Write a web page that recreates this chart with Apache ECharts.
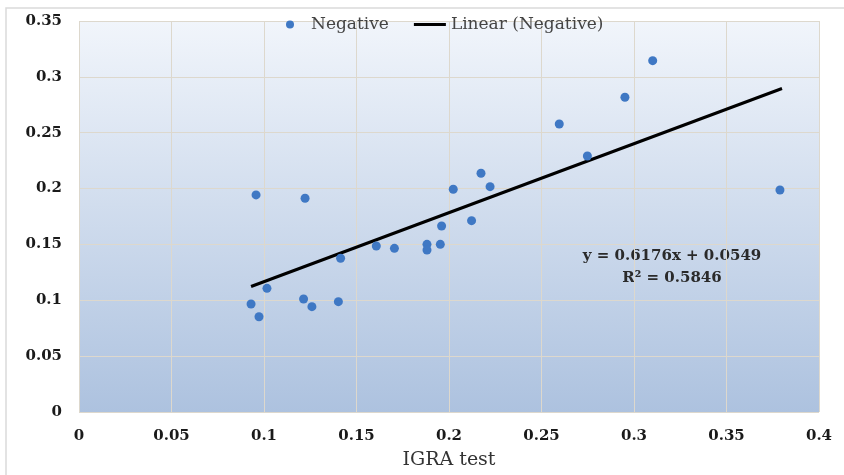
<!DOCTYPE html>
<html>
<head>
<meta charset="utf-8">
<script src="https://cdn.jsdelivr.net/npm/echarts@6/dist/echarts.min.js"></script>
<style>
  html, body { margin: 0; padding: 0; background: #fff; }
  #main { width: 844px; height: 475px; }
</style>
</head>
<body>
<div id="main"></div>
<script>
// IGRA test (x) vs. value (y), negative group
var negX = [0.0957, 0.1016, 0.0930, 0.0973, 0.1214, 0.1259, 0.1402,
            0.1222, 0.1414, 0.1607, 0.1705, 0.1881, 0.1881, 0.1953,
            0.1960, 0.2023, 0.2122, 0.2173, 0.2222,
            0.2596, 0.2748, 0.2951, 0.3101, 0.3789];
var negY = [0.1943, 0.1107, 0.0967, 0.0853, 0.1012, 0.0943, 0.0988,
            0.1913, 0.1376, 0.1486, 0.1465, 0.1501, 0.1450, 0.1501,
            0.1665, 0.1994, 0.1713, 0.2137, 0.2017,
            0.2578, 0.2292, 0.2817, 0.3145, 0.1987];

// linear trendline as reported in the chart
var slope = 0.6176;
var intercept = 0.0549;
var rSquared = 0.5846;
var trendRange = [0.093, 0.38];

var xTicks = { min: 0, max: 0.4, interval: 0.05 };
var yTicks = { min: 0, max: 0.35, interval: 0.05 };

var serif = 'DejaVu Serif';

var scatterData = negX.map(function(x, i) { return [x, negY[i]]; });
var trendData = trendRange.map(function(x) { return [x, slope * x + intercept]; });

var tickFmt = function(v) { return String(+v.toFixed(2)); };

var chart = echarts.init(document.getElementById('main'));
chart.setOption({
    animation: false,
    backgroundColor: '#fff',
    grid: {
        left: 79, right: 25, top: 21, bottom: 63,
        show: true,
        borderWidth: 0,
        backgroundColor: new echarts.graphic.LinearGradient(0, 0, 0, 1, [
            { offset: 0, color: '#f1f5fb' },
            { offset: 1, color: '#adc2df' }
        ])
    },
    legend: {
        left: 281, top: 11,
        itemWidth: 32, itemHeight: 8,
        itemGap: 25,
        textStyle: { fontFamily: serif, fontSize: 17, color: '#444' },
        data: [
            { name: 'Negative', icon: 'circle' },
            { name: 'Linear (Negative)', icon: 'path://M0,0L32,0L32,3L0,3Z',
              itemStyle: { color: '#000' } }
        ]
    },
    xAxis: {
        type: 'value',
        min: xTicks.min, max: xTicks.max, interval: xTicks.interval,
        name: 'IGRA test',
        nameLocation: 'middle',
        nameGap: 39,
        nameTextStyle: { fontFamily: serif, fontSize: 19, color: '#333' },
        axisLine: { show: false },
        axisTick: { show: false },
        axisLabel: {
            margin: 17,
            fontFamily: serif, fontSize: 15, fontWeight: 'bold', color: '#1a1a1a',
            formatter: tickFmt
        },
        splitLine: { show: true, lineStyle: { color: '#ddd8cd', width: 1 } }
    },
    yAxis: {
        type: 'value',
        min: yTicks.min, max: yTicks.max, interval: yTicks.interval,
        axisLine: { show: false },
        axisTick: { show: false },
        axisLabel: {
            margin: 17,
            fontFamily: serif, fontSize: 15, fontWeight: 'bold', color: '#1a1a1a',
            formatter: tickFmt
        },
        splitLine: { show: true, lineStyle: { color: '#ddd8cd', width: 1 } }
    },
    graphic: [
        {
            type: 'rect',
            silent: true,
            shape: { x: 6, y: 8, width: 850, height: 475 },
            style: { fill: 'none', stroke: '#dadada', lineWidth: 1.5 }
        },
        {
            type: 'text',
            x: 672, y: 245,
            style: {
                text: 'y = ' + slope + 'x + ' + intercept + '\nR² = ' + rSquared,
                font: 'bold 15px "DejaVu Serif"',
                fill: '#2a2a2a',
                textAlign: 'center',
                lineHeight: 22
            }
        }
    ],
    series: [
        {
            name: 'Negative',
            type: 'scatter',
            data: scatterData,
            symbolSize: 9,
            itemStyle: { color: '#3f78c4', opacity: 1 },
            z: 3
        },
        {
            name: 'Linear (Negative)',
            type: 'line',
            data: trendData,
            symbol: 'none',
            lineStyle: { color: '#000', width: 3 },
            itemStyle: { color: '#000' },
            z: 2
        }
    ]
});
</script>
</body>
</html>
